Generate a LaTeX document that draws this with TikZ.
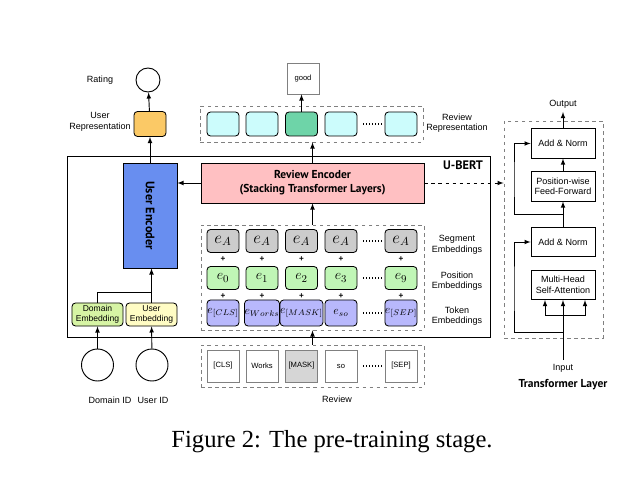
\documentclass[tikz,border=0pt]{standalone}
\usepackage{fontspec}
\setsansfont{Liberation Sans}
\setmainfont{Liberation Serif}
\newfontfamily\headfont{PT Sans}
\usepackage{xcolor}
\usetikzlibrary{positioning}

\definecolor{userorange}{RGB}{251,201,102}
\definecolor{repcyan}{RGB}{204,252,252}
\definecolor{repgreen}{RGB}{110,212,168}
\definecolor{encpink}{RGB}{255,192,194}
\definecolor{encblue}{RGB}{104,142,240}
\definecolor{domgreen}{RGB}{214,244,164}
\definecolor{usryellow}{RGB}{255,252,196}
\definecolor{seggray}{RGB}{204,204,204}
\definecolor{posgreen}{RGB}{192,246,182}
\definecolor{tokpurple}{RGB}{184,184,252}
\definecolor{maskgray}{RGB}{214,214,214}

\tikzset{
  embbox/.style={draw, line width=0.7pt, rounded corners=3pt, minimum width=0.96cm, minimum height=0.69cm, inner sep=0pt},
  wordbox/.style={draw=gray, line width=0.7pt, minimum width=0.96cm, minimum height=0.96cm, inner sep=0pt, font=\sffamily\fontsize{6.5}{8}\selectfont},
  dashbox/.style={draw=gray, dashed, line width=0.7pt, inner sep=0pt},
  tfbox/.style={draw, line width=0.7pt, minimum width=1.92cm, minimum height=0.88cm, align=center, inner sep=0pt},
  headtxt/.style={font=\headfont\bfseries\fontsize{9.8}{12}\selectfont, align=center},
  plus/.style={font=\sffamily\bfseries\fontsize{7}{8}\selectfont, inner sep=0pt},
  dots/.style={line width=1pt, dash pattern=on 1pt off 1.6pt}
}

\begin{document}
\begin{tikzpicture}[x=0.03cm, y=-0.03cm, >=latex, font=\sffamily\fontsize{7.7}{9}\selectfont]
\useasboundingbox (0,0) rectangle (641,483);

% user side
\node[draw, thick, circle, minimum size=0.72cm, inner sep=0pt] (rating) at (148,80) {};
\node (ratinglbl) at (100,80) {Rating};
\node[embbox, fill=userorange, minimum height=0.75cm] (userrep) at (150,124) {};
\node[align=center] (userreplbl) at (100,122) {User\\Representation};
\draw[->, thick] (userrep) -- (rating);

% U-BERT frame
\node[draw, thick, minimum width=12.69cm, minimum height=5.43cm, inner sep=0pt] (ubert) at (278.5,246.5) {};
\node[headtxt, font=\headfont\bfseries\fontsize{10.5}{12}\selectfont] (ubertlbl) at (463,165) {U-BERT};

\node[draw, line width=0.7pt, fill=encpink, minimum width=6.69cm, minimum height=1.2cm, headtxt] (revenc) at (312.5,183) {Review Encoder\\(Stacking Transformer Layers)};
\node[draw, line width=0.7pt, fill=encblue, minimum width=1.62cm, minimum height=3.15cm] (userenc) at (150,215.5) {};
\node[headtxt, font=\headfont\bfseries\fontsize{10.5}{12}\selectfont, rotate=-90] (userenclbl) at (userenc) {User Encoder};
\draw[->, thick] (revenc.west) -- (revenc.west -| userenc.east);
\draw[->, thick] (userenc) -- (userrep);

\node[embbox, fill=domgreen, minimum width=1.53cm, align=center, font=\sffamily\fontsize{7.3}{8.5}\selectfont] (domemb) at (97.5,314.5) {Domain\\Embedding};
\node[embbox, fill=usryellow, minimum width=1.53cm, align=center, font=\sffamily\fontsize{7.3}{8.5}\selectfont] (usremb) at (151.5,314.5) {User\\Embedding};
\draw[->, thick] (usremb.north) -- (usremb.north |- userenc.south);
\coordinate (domjoin) at (151.5,292);
\draw[thick] (domemb.north) |- (domjoin);

\node[draw, thick, circle, minimum size=0.96cm, inner sep=0pt] (domid) at (97.5,365) {};
\node[draw, thick, circle, minimum size=0.96cm, inner sep=0pt] (usrid) at (152,365) {};
\node (domidlbl) at (110,400) {Domain ID};
\node (usridlbl) at (153,400) {User ID};
\draw[->, thick] (domid) -- (domemb);
\draw[->, thick] (usrid) -- (usremb);

% review representation
\node[dashbox, minimum width=6.69cm, minimum height=1.08cm] (reprep) at (311.5,124) {};
\foreach \x/\c [count=\i] in {223/repcyan, 262/repcyan, 301.5/repgreen, 341/repcyan, 401/repcyan}
  \node[embbox, fill=\c, minimum height=0.72cm] (rep\i) at (\x,124) {};
\draw[dots] (363,124) -- (383,124);
\node[draw=gray, line width=0.7pt, minimum width=0.96cm, minimum height=0.93cm, inner sep=0pt, font=\sffamily\fontsize{6.5}{8}\selectfont] (good) at (303,78.5) {good};
\draw[->, thick] (rep3) -- (rep3 |- good.south);
\node[align=center] (repreplbl) at (457,123) {Review\\Representation};
\draw[->, thick] (revenc.north) -- (revenc.north |- reprep.south);

% embeddings
\node[dashbox, minimum width=6.69cm, minimum height=3.15cm] (embs) at (312.5,277.5) {};
\foreach \x/\p [count=\i] in {223/0, 262/1, 301.5/2, 341/3, 401/9} {
  \node[embbox, fill=seggray, font=\fontsize{14}{16}\selectfont] (seg\i) at (\x,241) {$e_A$};
  \node[plus] at (\x,259) {+};
  \node[embbox, fill=posgreen, font=\fontsize{13}{15}\selectfont] (pos\i) at (\x,278) {$e_\p$};
  \node[plus] at (\x,296) {+};
}
\foreach \x/\t [count=\i] in {223/{[CLS]}, 262/{Works}, 301.5/{[MASK]}, 341/{so}, 401/{[SEP]}}
  \node[embbox, fill=tokpurple, minimum height=0.78cm, font=\fontsize{10}{12}\selectfont] (tok\i) at (\x,313) {$e_{\t}$};
\draw[dots] (363,241) -- (383,241);
\draw[dots] (363,278) -- (383,278);
\draw[dots] (363,313) -- (383,313);
\node[align=center] (seglbl) at (457,245) {Segment\\Embeddings};
\node[align=center] (poslbl) at (457,281) {Position\\Embeddings};
\node[align=center] (toklbl) at (457,316) {Token\\Embeddings};
\draw[->, thick] (embs.north -| revenc) -- (revenc.south);

% review words
\node[dashbox, minimum width=6.69cm, minimum height=1.26cm] (review) at (312.5,366) {};
\foreach \x/\w/\c [count=\i] in {223/{[CLS]}/white, 262/Works/white, 301.5/{[MASK]}/maskgray, 341/so/white, 401/{[SEP]}/white}
  \node[wordbox, fill=\c] (word\i) at (\x,366) {\w};
\draw[dots] (363,366) -- (383,366);
\node (reviewlbl) at (337,399) {Review};
\draw[->, thick] (review.north -| revenc) -- (embs.south -| revenc);

% transformer layer
\node[dashbox, minimum width=2.97cm, minimum height=6.51cm] (tlayer) at (553.5,229.5) {};
\draw[->, thick, dashed] (revenc.east) -- (revenc.east -| tlayer.west);
\node[tfbox] (addnorm2) at (563,143.5) {Add \& Norm};
\node[tfbox] (ffn) at (563,186.5) {Position-wise\\Feed-Forward};
\node[tfbox] (addnorm1) at (563,242) {Add \& Norm};
\node[tfbox] (mha) at (563,285) {Multi-Head\\Self-Attention};
\node (outlbl) at (563,104) {Output};
\node (inlbl) at (563,368) {Input};
\node[headtxt] (tlayerlbl) at (563,385) {Transformer Layer};
\coordinate (outtop) at (563,112);
\coordinate (inbot) at (563,360);
\coordinate (split) at (563,315);
\draw[->, thick] (addnorm2) -- (outtop);
\draw[->, thick] (ffn) -- (addnorm2);
\draw[->, thick] (addnorm1) -- (ffn);
\draw[->, thick] (inbot) -- (mha);
\draw[->, thick] (split) -| ([xshift=-0.54cm]mha.south);
\draw[->, thick] (split) -| ([xshift=0.66cm]mha.south);
\coordinate (res1) at (563,332);
\coordinate (res2) at (563,214);
\draw[->, thick] (res1) -| (514,290) |- (addnorm1.west);
\draw[->, thick] (res2) -| (514,180) |- (addnorm2.west);

% caption
\node[font=\rmfamily\fontsize{21}{25}\selectfont] (caption) at (332,442) {Figure 2: The pre-training stage.};
\end{tikzpicture}
\end{document}
